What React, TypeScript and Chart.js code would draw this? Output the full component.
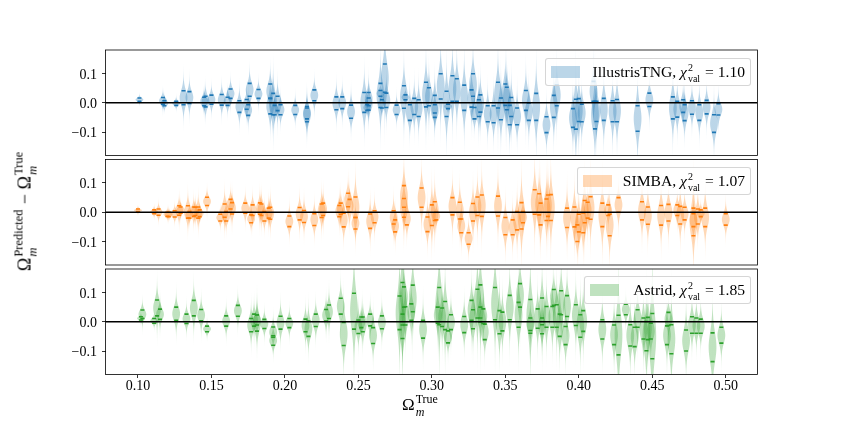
import { useEffect, useRef } from 'react'
import { Chart, registerables } from 'chart.js'
import type { Plugin } from 'chart.js'

Chart.register(...registerables)

const xTicks = [0.1, 0.15, 0.2, 0.25, 0.3, 0.35, 0.4, 0.45, 0.5]
const yTicks = [-0.1, 0, 0.1]
const xRange = [0.0779, 0.5216]
const yRange = [-0.18, 0.18]

// every violin: position, upper quantile, lower quantile
const tngX = [.101,.117,.118,.126,.131,.135,.145,.146,.150,.157,.161,.163,.169,.174,.175,.176,.182,.190,.190,.192,.193,.195,.197,.207,.215,.215,.220,.235,.239,.245,.254,.256,.257,.257,.265,.265,.266,.268,.269,.276,.281,.282,.285,.288,.291,.296,.298,.302,.302,.306,.310,.311,.314,.317,.322,.327,.328,.329,.332,.333,.338,.342,.345,.347,.350,.351,.353,.354,.358,.364,.366,.371,.378,.383,.385,.396,.398,.400,.402,.410,.411,.412,.417,.423,.426,.440,.448,.464,.467,.471,.472,.477,.482,.487,.492,.495]
const tngHigh = [.016,.018,.007,.005,.041,.038,.019,.022,.026,.028,.019,.047,.007,.011,-.007,.066,.045,.064,.015,.032,-.009,.022,-.007,-.009,-.013,-.018,.044,.020,.020,-.008,.035,-.007,.016,.035,.066,.042,.010,.132,.033,-.008,.058,.027,-.007,.015,.010,.070,.051,.025,-.007,.099,.039,-.005,.092,.082,.060,.044,.099,-.016,.010,.027,-.010,-.010,.070,.016,.064,.053,-.009,.018,-.018,.042,-.001,.032,-.048,.025,.061,-.020,.012,.014,-.005,.073,.005,.005,.015,.007,.011,-.010,.033,.020,.005,.010,-.007,.007,-.007,.008,-.041,-.003]
const tngLow = [.005,-.005,-.010,-.009,-.007,-.002,-.010,-.014,-.005,-.008,-.009,.015,-.033,-.022,-.043,.022,.015,.015,-.038,-.041,-.041,-.027,-.041,-.040,-.055,-.065,.007,-.024,-.020,-.053,-.033,-.026,-.025,-.010,-.016,.022,-.018,.036,-.016,-.040,-.019,.010,-.060,-.040,-.047,-.014,-.010,-.035,-.050,.013,-.047,-.020,.005,.005,-.026,-.015,.022,-.055,-.047,-.032,-.065,-.068,-.018,-.058,-.009,-.024,-.075,-.047,-.075,-.026,-.060,-.060,-.102,-.050,-.010,-.084,-.090,-.064,-.065,.005,-.089,-.064,-.060,-.065,-.065,-.097,-.013,-.055,-.049,-.033,-.061,-.039,-.060,-.038,-.101,-.042]

const simbaX = [.100,.111,.114,.120,.121,.125,.128,.129,.134,.135,.138,.139,.141,.142,.147,.156,.159,.160,.163,.164,.173,.177,.178,.183,.184,.186,.189,.190,.203,.210,.213,.220,.225,.226,.237,.238,.240,.243,.244,.248,.248,.258,.261,.274,.275,.281,.281,.283,.293,.297,.300,.302,.303,.314,.319,.320,.325,.328,.331,.334,.345,.350,.355,.358,.361,.362,.370,.373,.374,.378,.379,.381,.392,.397,.399,.400,.403,.404,.406,.408,.416,.420,.421,.427,.443,.447,.456,.461,.467,.469,.472,.478,.478,.481,.483,.486,.500]
const simbaHigh = [.011,.008,.011,0,0,.005,.022,.018,.022,.002,.018,.017,.018,.008,.051,-.007,.028,.002,.044,.033,.031,-.009,.025,.032,.028,.002,.014,.017,-.013,.016,.006,-.005,.028,.031,.023,.031,-.003,.065,.044,.052,-.018,-.006,.005,.005,-.026,.091,.047,0,.083,-.016,.025,.036,0,.050,.034,-.023,-.070,.030,.052,.059,.055,-.018,-.026,.002,.033,.002,.077,.063,.031,.045,.059,.060,.014,.018,-.043,-.007,-.002,.040,.034,.053,.031,.025,-.007,.050,.036,.018,.023,.027,.025,.020,.017,.014,-.005,.011,.008,.014,-.005]
const simbaLow = [.002,-.005,-.010,-.014,-.015,-.016,-.010,-.003,-.020,-.020,-.014,-.011,-.020,-.015,.023,-.030,-.017,-.030,.011,-.006,-.003,-.036,-.011,-.007,-.011,-.030,-.020,-.024,-.049,-.026,-.035,-.045,-.018,-.011,-.015,-.007,-.050,.019,0,-.018,-.057,-.055,-.036,-.040,-.067,.017,-.017,-.043,.017,-.066,-.045,-.028,-.026,-.009,-.023,-.070,-.109,-.030,-.011,-.014,-.013,-.077,-.077,-.060,-.057,-.036,-.007,-.009,-.043,-.028,-.014,-.028,-.052,-.050,-.100,-.067,-.070,-.036,-.020,-.024,-.049,-.011,-.080,0,-.026,-.041,-.044,-.030,-.011,-.040,-.026,-.080,-.049,-.040,-.015,-.049,-.044]

const astridX = [.102,.103,.111,.113,.115,.126,.133,.138,.143,.147,.160,.168,.177,.179,.181,.181,.186,.192,.192,.197,.203,.214,.216,.221,.228,.230,.238,.240,.247,.250,.252,.253,.258,.260,.266,.278,.280,.281,.280,.282,.286,.287,.294,.304,.305,.307,.309,.311,.313,.322,.327,.328,.331,.333,.333,.335,.336,.343,.346,.348,.353,.359,.360,.367,.367,.372,.375,.375,.378,.382,.383,.385,.387,.388,.391,.392,.398,.401,.403,.416,.424,.427,.432,.435,.438,.440,.444,.446,.447,.450,.449,.460,.461,.463,.473,.477,.480,.483,.491,.497]
const astridHigh = [.017,.040,.011,.074,.043,.050,.026,.073,.042,-.015,.020,.056,.011,.026,.023,.024,.008,-.018,-.048,.019,.011,.009,.002,.026,.042,.057,.080,-.002,.097,.006,.016,.016,.026,-.020,.020,.088,.134,.119,.026,.051,.061,.125,.005,.050,.117,.047,.069,-.031,.024,.018,.073,.041,.111,.126,.050,.044,-.008,.117,.038,.033,.090,.066,.130,.076,.013,.044,.013,.081,.052,.052,.110,.058,.026,.106,-.016,.089,.058,.024,.038,.007,-.011,.022,.060,-.010,-.019,.041,.013,.001,.015,.028,-.005,-.014,.032,-.010,-.028,.017,.013,.009,-.038,-.019]
const astridLow = [.006,.011,-.005,.020,.008,.005,-.006,.020,.003,-.034,-.015,.019,-.034,-.015,-.011,-.032,-.023,-.053,-.080,-.025,-.020,-.034,-.050,-.016,.002,.011,.026,-.081,-.025,-.040,-.020,-.034,-.014,-.074,-.024,-.027,-.011,.050,-.057,-.011,.005,.034,-.056,-.005,-.010,-.016,-.027,-.072,-.027,-.037,.005,-.024,.013,.013,-.001,-.006,-.061,.007,-.041,-.031,.007,-.019,.050,-.039,-.030,-.022,-.041,-.010,-.019,-.019,.056,-.019,-.050,.024,-.078,.018,-.013,-.053,-.033,-.059,-.078,-.113,.024,-.083,-.085,-.019,-.059,-.099,-.061,-.126,-.059,-.078,-.013,-.109,-.100,-.039,-.039,-.039,-.136,-.073]

const serif = "'Liberation Serif', serif"
const minus = '\u2212'
const violinWidth = 0.0053
const violinAlpha = 0.3

type Series = { x: number[]; high: number[]; low: number[]; color: string; rgb: string }

const violinPlugin: Plugin<'scatter'> = {
  id: 'violins',
  beforeDatasetsDraw(chart, _args, opts: any) {
    const { ctx, chartArea: a, scales } = chart
    const series: Series = opts.series
    ctx.save()
    ctx.beginPath()
    ctx.rect(a.left, a.top, a.width, a.height)
    ctx.clip()
    series.x.forEach((x, i) => {
      const mid = (series.high[i] + series.low[i]) / 2
      const sd = (series.high[i] - series.low[i]) / 2
      const right: [number, number][] = []
      const left: [number, number][] = []
      for (let k = -50; k <= 50; k++) {
        const z = k / 10
        // wide soft tails, faded below with the gradient
        const w = (violinWidth / 2) * (0.88 * Math.exp((-z * z) / 2) + 0.12 * Math.exp((-z * z) / 10))
        const y = scales.y.getPixelForValue(mid + z * sd)
        right.push([scales.x.getPixelForValue(x + w), y])
        left.unshift([scales.x.getPixelForValue(x - w), y])
      }
      const fade = ctx.createLinearGradient(0, right[0][1], 0, right[right.length - 1][1])
      fade.addColorStop(0, `rgba(${series.rgb},0)`)
      fade.addColorStop(0.28, `rgba(${series.rgb},${violinAlpha})`)
      fade.addColorStop(0.72, `rgba(${series.rgb},${violinAlpha})`)
      fade.addColorStop(1, `rgba(${series.rgb},0)`)
      ctx.fillStyle = fade
      ctx.beginPath()
      ;[...right, ...left].forEach(([px, py], n) => (n ? ctx.lineTo(px, py) : ctx.moveTo(px, py)))
      ctx.closePath()
      ctx.fill()
    })
    ctx.restore()
  },
  afterDraw(chart) {
    const { ctx, chartArea: a } = chart
    ctx.save()
    ctx.strokeStyle = '#000'
    ctx.lineWidth = 0.8
    ctx.strokeRect(a.left, a.top, a.width, a.height)
    ctx.restore()
  },
}

type PanelProps = { series: Series; top: number; height: number; padTop: number; padBottom: number; showX: boolean }

function Panel({ series, top, height, padTop, padBottom, showX }: PanelProps) {
  const canvasRef = useRef<HTMLCanvasElement>(null)

  useEffect(() => {
    if (!canvasRef.current) return
    const chart = new Chart(canvasRef.current, {
      type: 'scatter',
      data: {
        datasets: [
          {
            label: 'zero',
            type: 'line',
            data: [{ x: xRange[0], y: 0 }, { x: xRange[1], y: 0 }],
            borderColor: '#000',
            borderWidth: 1.6,
            pointRadius: 0,
          },
          {
            label: 'upper',
            data: series.x.map((x, i) => ({ x, y: series.high[i] })),
            pointStyle: 'line',
            pointRadius: 2,
            borderColor: series.color,
            pointBorderColor: series.color,
            pointBorderWidth: 1.6,
          },
          {
            label: 'lower',
            data: series.x.map((x, i) => ({ x, y: series.low[i] })),
            pointStyle: 'line',
            pointRadius: 2,
            borderColor: series.color,
            pointBorderColor: series.color,
            pointBorderWidth: 1.6,
          },
        ],
      } as any,
      options: {
        animation: false,
        responsive: false,
        layout: { padding: { left: 65.5, right: 85.5, top: padTop, bottom: padBottom } },
        plugins: {
          legend: { display: false },
          tooltip: { enabled: false },
          violins: { series },
        } as any,
        scales: {
          x: {
            type: 'linear',
            display: showX,
            min: xRange[0],
            max: xRange[1],
            afterBuildTicks: s => { s.ticks = xTicks.map(value => ({ value })) },
            afterFit: s => { if (showX) s.height = 26 },
            border: { display: false },
            grid: { drawOnChartArea: false, tickLength: 3.5, tickColor: '#000', tickWidth: 0.8 },
            ticks: {
              color: '#000',
              padding: 0,
              maxRotation: 0,
              autoSkip: false,
              font: { family: serif, size: 14 },
              callback: v => Number(v).toFixed(2),
            },
          },
          y: {
            min: yRange[0],
            max: yRange[1],
            afterBuildTicks: s => { s.ticks = yTicks.map(value => ({ value })) },
            afterFit: s => { s.width = 40 },
            border: { display: false },
            grid: { drawOnChartArea: false, tickLength: 3.5, tickColor: '#000', tickWidth: 0.8 },
            ticks: {
              color: '#000',
              padding: 5,
              labelOffset: 1.5,
              font: { family: serif, size: 14 },
              callback: v => (Number(v) < 0 ? minus : '') + Math.abs(Number(v)).toFixed(1),
            },
          },
        },
      },
      plugins: [violinPlugin],
    })
    return () => chart.destroy()
  }, [series, showX, padTop, padBottom])

  return <canvas ref={canvasRef} width={843} height={height} style={{ position: 'absolute', left: 0, top }} />
}

function SupSub({ sup, sub, size, italicSub }: { sup: string; sub: string; size: number; italicSub?: boolean }) {
  return (
    <span style={{ display: 'inline-flex', flexDirection: 'column', verticalAlign: 'middle', fontSize: size, lineHeight: `${size + 1}px`, margin: '0 1px' }}>
      <span>{sup}</span>
      <span style={{ fontStyle: italicSub ? 'italic' : 'normal' }}>{sub}</span>
    </span>
  )
}

function LegendBox({ left, top, width, rgb, name, chi }: { left: number; top: number; width: number; rgb: string; name: string; chi: string }) {
  return (
    <div style={{ position: 'absolute', left, top, width, height: 28, boxSizing: 'border-box', background: 'rgba(255,255,255,0.8)', border: '1px solid rgba(204,204,204,0.8)', borderRadius: 3, fontFamily: serif, fontSize: 15.6, color: '#000', whiteSpace: 'nowrap' }}>
      <div style={{ position: 'absolute', left: 5, top: 7, width: 29, height: 12, background: `rgba(${rgb},${violinAlpha})` }} />
      <div style={{ position: 'absolute', right: 5, top: 0, height: 26, lineHeight: '26px' }}>
        {name}, <i>{'\u03C7'}</i>
        <SupSub sup="2" sub="val" size={10} /> = {chi}
      </div>
    </div>
  )
}

const tng: Series = { x: tngX, high: tngHigh, low: tngLow, color: '#1f77b4', rgb: '31,119,180' }
const simba: Series = { x: simbaX, high: simbaHigh, low: simbaLow, color: '#ff7f0e', rgb: '255,127,14' }
const astrid: Series = { x: astridX, high: astridHigh, low: astridLow, color: '#2ca02c', rgb: '44,160,44' }

export default function App() {
  return (
    <div style={{ position: 'absolute', left: 0, top: 0, width: 843, height: 421, overflow: 'hidden', background: '#fff' }}>
      <Panel series={tng} top={36} height={134} padTop={14} padBottom={14.5} showX={false} />
      <Panel series={simba} top={145} height={134} padTop={14.5} padBottom={14} showX={false} />
      <Panel series={astrid} top={255} height={146} padTop={14} padBottom={0.5} showX={true} />
      <LegendBox left={545} top={58} width={206} rgb={tng.rgb} name="IllustrisTNG" chi="1.10" />
      <LegendBox left={577} top={167} width={174} rgb={simba.rgb} name="SIMBA" chi="1.07" />
      <LegendBox left={584} top={276} width={167} rgb={astrid.rgb} name="Astrid" chi="1.85" />
      <div style={{ position: 'absolute', left: 402, top: 393, fontFamily: serif, fontSize: 17, color: '#000', whiteSpace: 'nowrap' }}>
        {'\u03A9'}<SupSub sup="True" sub="m" size={12} italicSub />
      </div>
      <div style={{ position: 'absolute', left: 26, top: 211, transform: 'translate(-50%,-50%) rotate(-90deg)', fontFamily: serif, fontSize: 18, color: '#000', whiteSpace: 'nowrap' }}>
        {'\u03A9'}<SupSub sup="Predicted" sub="m" size={12.5} italicSub /> {minus} {'\u03A9'}<SupSub sup="True" sub="m" size={12.5} italicSub />
      </div>
    </div>
  )
}
